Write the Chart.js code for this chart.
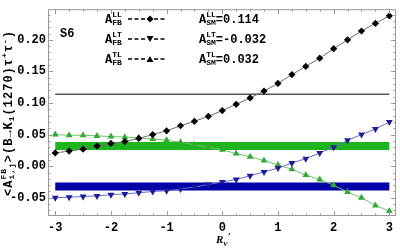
<!DOCTYPE html>
<html>
<head>
<meta charset="utf-8">
<script src="https://cdn.jsdelivr.net/npm/chart.js@4.4.1/dist/chart.umd.min.js"></script>
<style>
html,body{margin:0;padding:0;background:#fff;}
#c{display:block;}
</style>
</head>
<body>
<canvas id="c" width="400" height="248"></canvas>
<script>
// ---- data ----
const xValues = [-3,-2.75,-2.5,-2.25,-2,-1.75,-1.5,-1.25,-1,-0.75,-0.5,-0.25,0,0.25,0.5,0.75,1,1.25,1.5,1.75,2,2.25,2.5,2.75,3];
const llValues = [0.021,0.024,0.027,0.032,0.036,0.039,0.044,0.050,0.056,0.064,0.071,0.079,0.088,0.098,0.108,0.119,0.131,0.145,0.158,0.171,0.186,0.200,0.214,0.226,0.238];
const ltValues = [-0.050,-0.049,-0.048,-0.047,-0.045,-0.044,-0.042,-0.040,-0.039,-0.036,-0.033,-0.029,-0.025,-0.021,-0.015,-0.009,-0.003,0.005,0.012,0.021,0.030,0.041,0.050,0.059,0.070];
const tlValues = [0.050,0.049,0.049,0.048,0.047,0.046,0.045,0.043,0.041,0.038,0.034,0.030,0.026,0.020,0.015,0.009,0.002,-0.005,-0.014,-0.021,-0.030,-0.041,-0.050,-0.062,-0.071];
const smLL = 0.114, smLT = -0.032, smTL = 0.032;
const smRange = [-3, 3];
const xTicks = [-3,-2,-1,0,1,2,3];
const xTickLabels = ['-3','-2','-1','0','1','2','3'];
const yTicks = [-0.05,0,0.05,0.10,0.15,0.20];
const yTickLabels = ['-0.05','0.00','0.05','0.10','0.15','0.20'];
const panelLabel = 'S6';

const pts = (ys) => xValues.map((x,i)=>({x, y: ys[i]}));
const flat = (v) => smRange.map(x=>({x, y: v}));

const MONO = '"Liberation Mono", "DejaVu Sans Mono", monospace';

function drawRich(ctx, x, y, pieces, mainPx, smallPx) {
  let cx = x;
  for (const p of pieces) {
    if (p.stack) {
      ctx.font = 'bold ' + smallPx + 'px ' + MONO;
      const w1 = ctx.measureText(p.sup).width, w2 = ctx.measureText(p.sub).width;
      ctx.fillText(p.sup, cx, y - mainPx*0.5);
      ctx.fillText(p.sub, cx, y + mainPx*0.2);
      cx += Math.max(w1, w2);
    } else if (p.sup) {
      ctx.font = 'bold ' + smallPx + 'px ' + MONO;
      ctx.fillText(p.sup, cx, y - mainPx*0.45);
      cx += ctx.measureText(p.sup).width;
    } else if (p.sub) {
      ctx.font = 'bold ' + smallPx + 'px ' + MONO;
      ctx.fillText(p.sub, cx, y + mainPx*0.2);
      cx += ctx.measureText(p.sub).width;
    } else {
      ctx.font = 'bold ' + mainPx + 'px ' + MONO;
      ctx.fillText(p.t, cx, y);
      cx += ctx.measureText(p.t).width;
    }
  }
  return cx;
}

function drawMarker(ctx, kind, cx, cy, color) {
  ctx.fillStyle = color;
  ctx.beginPath();
  if (kind === 'diamond') {
    ctx.moveTo(cx, cy-3.5); ctx.lineTo(cx+3.5, cy); ctx.lineTo(cx, cy+3.5); ctx.lineTo(cx-3.5, cy);
  } else if (kind === 'down') {
    ctx.moveTo(cx-3.5, cy-3); ctx.lineTo(cx+3.5, cy-3); ctx.lineTo(cx, cy+3);
  } else {
    ctx.moveTo(cx-3.5, cy+3); ctx.lineTo(cx+3.5, cy+3); ctx.lineTo(cx, cy-3);
  }
  ctx.closePath(); ctx.fill();
}

const framePlugin = {
  id: 'frame',
  afterDraw(chart) {
    const {ctx, chartArea: a, scales: {x, y}} = chart;
    ctx.save();
    ctx.strokeStyle = '#9a9a9a';
    ctx.lineWidth = 1;
    ctx.strokeRect(a.left+0.5, a.top+0.5, a.right-a.left-1, a.bottom-a.top-1);
    ctx.beginPath();
    for (let k = -7; k <= 24; k++) {
      const v = k*0.01;
      const py = Math.round(y.getPixelForValue(v)) + 0.5;
      if (py < a.top || py > a.bottom) continue;
      const len = (k % 5 === 0) ? 5 : 2.5;
      ctx.moveTo(a.left, py); ctx.lineTo(a.left+len, py);
      ctx.moveTo(a.right, py); ctx.lineTo(a.right-len, py);
    }
    for (let k = -12; k <= 12; k++) {
      const v = k*0.25;
      const px = Math.round(x.getPixelForValue(v)) + 0.5;
      const len = (k % 4 === 0) ? 5 : 2.5;
      ctx.moveTo(px, a.bottom); ctx.lineTo(px, a.bottom-len);
      ctx.moveTo(px, a.top); ctx.lineTo(px, a.top+len);
    }
    ctx.stroke();

    ctx.fillStyle = '#000';
    ctx.textBaseline = 'alphabetic';
    ctx.textAlign = 'left';
    ctx.font = 'bold 12px ' + MONO;
    ctx.fillText(panelLabel, 60, 37);

    const rows = [
      {sup:'LL', kind:'diamond', val: smLL.toFixed(3), y: 23},
      {sup:'LT', kind:'down', val: smLT.toFixed(3), y: 43},
      {sup:'TL', kind:'up', val: smTL.toFixed(3), y: 63}
    ];
    for (const r of rows) {
      ctx.fillStyle = '#000';
      drawRich(ctx, 105, r.y, [{t:'A'}, {stack:true, sup:r.sup, sub:'FB'}], 12, 8);
      ctx.strokeStyle = '#000';
      ctx.lineWidth = 1.3;
      ctx.setLineDash([4, 2.5]);
      ctx.beginPath();
      ctx.moveTo(128, r.y-4); ctx.lineTo(145, r.y-4);
      ctx.moveTo(154, r.y-4); ctx.lineTo(167, r.y-4);
      ctx.stroke();
      ctx.setLineDash([]);
      drawMarker(ctx, r.kind, 150, r.y-4, '#000');
      ctx.fillStyle = '#000';
      drawRich(ctx, 199, r.y, [{t:'A'}, {stack:true, sup:r.sup, sub:'SM'}, {t:'=' + r.val}], 12, 8);
    }

    // y title (rotated)
    ctx.save();
    ctx.translate(12, 196);
    ctx.rotate(-Math.PI/2);
    ctx.fillStyle = '#000';
    ctx.letterSpacing = '1px';
    drawRich(ctx, 0, 0, [
      {t:'<A'}, {stack:true, sup:'FB', sub:'i,j'}, {t:'>(B\u2192K'}, {sub:'1'},
      {t:'(1270)\u03c4'}, {sup:'+'}, {t:'\u03c4'}, {sup:'-'}, {t:')'}
    ], 12, 8);
    ctx.letterSpacing = '0px';
    ctx.restore();

    ctx.fillStyle = '#000';
    ctx.font = 'italic bold 11px "Liberation Serif", serif';
    ctx.fillText('R', 216, 243);
    ctx.font = 'italic bold 7px "Liberation Serif", serif';
    ctx.fillText('V', 223, 246);
    ctx.font = 'bold 10px "Liberation Serif", serif';
    ctx.fillText('\u2032', 228, 240);
    ctx.restore();
  }
};

new Chart(document.getElementById('c'), {
  type: 'scatter',
  data: {
    datasets: [
      {data: pts(llValues), showLine: true, borderColor: '#6d6d6d', borderWidth: 1,
       pointStyle: 'rectRot', pointRadius: 3.6, pointBackgroundColor: '#000', pointBorderWidth: 0, order: 1},
      {data: pts(ltValues), showLine: true, borderColor: '#6a6ad8', borderWidth: 1,
       pointStyle: 'triangle', rotation: 180, pointRadius: 4, pointBackgroundColor: '#1c1c96', pointBorderWidth: 0, order: 2},
      {data: pts(tlValues), showLine: true, borderColor: '#6cc46c', borderWidth: 1,
       pointStyle: 'triangle', pointRadius: 4, pointBackgroundColor: '#33aa33', pointBorderWidth: 0, order: 3},
      {data: flat(smLL), showLine: true, borderColor: '#000', borderWidth: 1, pointRadius: 0, order: 4},
      {data: flat(smTL), showLine: true, borderColor: '#1db41d', borderWidth: 8, pointRadius: 0, borderCapStyle: 'butt', order: 5},
      {data: flat(smLT), showLine: true, borderColor: '#0000a6', borderWidth: 8, pointRadius: 0, borderCapStyle: 'butt', order: 6}
    ]
  },
  options: {
    responsive: false,
    animation: false,
    devicePixelRatio: 1,
    layout: {padding: {top: 0, right: 1, left: 0, bottom: 0}},
    plugins: {legend: {display: false}, tooltip: {enabled: false}},
    scales: {
      x: {
        type: 'linear', min: -3.13, max: 3.12,
        grid: {display: false, drawTicks: false},
        border: {display: false},
        afterBuildTicks: (s) => { s.ticks = xTicks.map(v => ({value: v})); },
        afterFit: (s) => { s.height = 32; },
        ticks: {padding: 5, color: '#000', maxRotation: 0, autoSkip: false,
          font: {family: MONO, size: 12, weight: 'bold'},
          callback: (v) => { const i = xTicks.indexOf(v); return i >= 0 ? xTickLabels[i] : ''; }}
      },
      y: {
        type: 'linear', min: -0.0788, max: 0.2485,
        grid: {display: false, drawTicks: false},
        border: {display: false},
        afterBuildTicks: (s) => { s.ticks = yTicks.map(v => ({value: v})); },
        afterFit: (s) => { s.width = 48; },
        ticks: {padding: 2, color: '#000', autoSkip: false,
          font: {family: MONO, size: 12, weight: 'bold'},
          callback: (v) => { const i = yTicks.findIndex(t => Math.abs(t - v) < 1e-9); return i >= 0 ? yTickLabels[i] : ''; }}
      }
    }
  },
  plugins: [framePlugin]
});
</script>
</body>
</html>
